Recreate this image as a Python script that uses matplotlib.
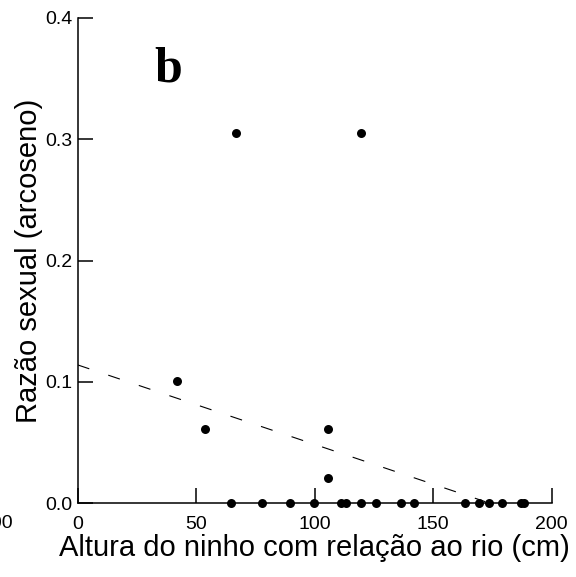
import numpy as np
from matplotlib import pyplot as plt

# Data
altura = [41.8, 53.7, 64.7, 66.8, 77.9, 89.7, 99.8, 105.7, 105.7, 111.1, 113.1,
          119.5, 119.5, 125.7, 136.4, 141.9, 163.4, 169.3, 173.7, 179.2, 187.0, 188.2]
razao = [0.101, 0.061, 0.0, 0.305, 0.0, 0.0, 0.0, 0.061, 0.021, 0.0, 0.0,
         0.0, 0.305, 0.0, 0.0, 0.0, 0.0, 0.0, 0.0, 0.0, 0.0, 0.0]

# regression line
fit_intercept = 0.114
fit_slope = -0.000655
fit_range = [0, 172]

x_ticks = [0, 50, 100, 150, 200]
y_ticks = [0.0, 0.1, 0.2, 0.3, 0.4]

plt.rcParams['font.family'] = ['Liberation Sans', 'DejaVu Sans']

fig = plt.figure(figsize=(5.76, 5.77), dpi=100)
ax = fig.add_axes([0.1349, 0.1277, 0.8229, 0.8416])

ax.scatter(altura, razao, s=42, color='black', zorder=3, clip_on=False, linewidths=0)

fx = np.array(fit_range)
ax.plot(fx, fit_intercept + fit_slope * fx, color='black', lw=0.8,
        dashes=(11, 18), zorder=2)

ax.set_xlim(0, 200)
ax.set_ylim(0, 0.4)
ax.set_xticks(x_ticks)
ax.set_xticklabels([str(t) for t in x_ticks])
ax.set_yticks(y_ticks)
ax.set_yticklabels([f'{t:.1f}' for t in y_ticks])

for side in ['top', 'right']:
    ax.spines[side].set_visible(False)
for side in ['left', 'bottom']:
    ax.spines[side].set_linewidth(1.1)

ax.tick_params(axis='x', direction='in', length=11, width=1.1, labelsize=14, pad=9)
ax.tick_params(axis='y', direction='in', length=11, width=1.1, labelsize=14, pad=4)

ax.set_xlabel('Altura do ninho com relação ao rio (cm)', fontsize=21, labelpad=1)
ax.set_ylabel('Razão sexual (arcoseno)', fontsize=21, labelpad=1.5)

fig.text(168 / 576, 1 - 82 / 577, 'b', family='Liberation Serif', weight='bold',
         fontsize=36, ha='center', va='baseline')

# clipped label from the neighbouring panel
fig.text(13 / 576, 1 - 523 / 577, '200', fontsize=14, ha='right', va='center')

fig.savefig('out.png', dpi=100)
